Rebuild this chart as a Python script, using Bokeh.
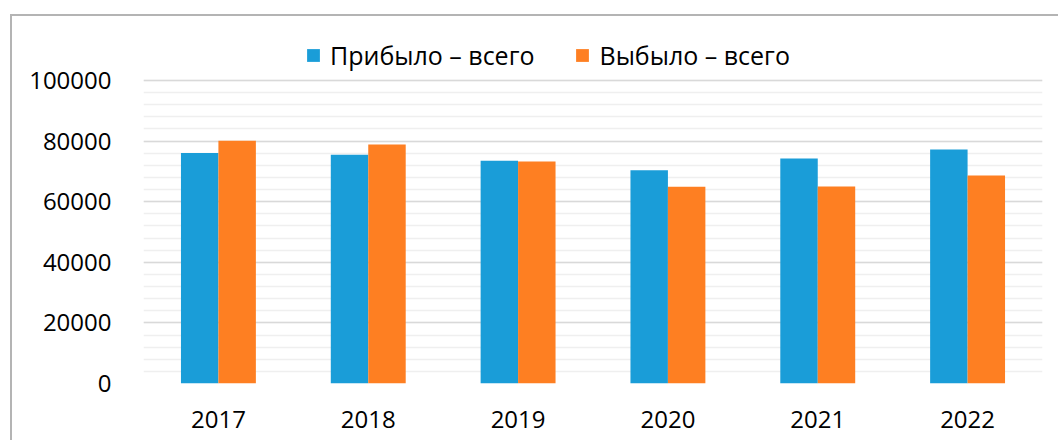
from bokeh.plotting import figure
from bokeh.models import (ColumnDataSource, FactorRange, Range1d, FixedTicker, Legend,
                          LegendItem, BasicTickFormatter)
from bokeh.transform import dodge
from bokeh.embed import file_html
from bokeh.resources import INLINE

years = ["2017", "2018", "2019", "2020", "2021", "2022"]
arrived = [76100, 75500, 73500, 70400, 74250, 77200]
departed = [80100, 78900, 73250, 64900, 65000, 68650]
series_names = ["Прибыло – всего", "Выбыло – всего"]
y_ticks = [0, 20000, 40000, 60000, 80000, 100000]
minor_ticks = list(range(0, 100001, 4000))

BLUE = "#1a9dd8"
ORANGE = "#fe7f22"
FONT = "Open Sans"

src = ColumnDataSource(dict(year=years, arrived=arrived, departed=departed))

p = figure(
    x_range=FactorRange(*years, range_padding=0),
    y_range=Range1d(0, 116500),
    width=1048, height=426,
    output_backend="svg", toolbar_location=None,
    min_border_left=131, min_border_right=18,
    min_border_top=14, min_border_bottom=59,
)
p.styles = {"margin-left": "10px", "margin-top": "14px",
            "border-left": "2px solid #b4b4b4", "border-top": "2px solid #b4b4b4"}

r1 = p.vbar(x=dodge("year", -0.125, range=p.x_range), top="arrived", width=0.25,
            source=src, fill_color=BLUE, line_color=None)
r2 = p.vbar(x=dodge("year", 0.125, range=p.x_range), top="departed", width=0.25,
            source=src, fill_color=ORANGE, line_color=None)

p.outline_line_color = None
p.xgrid.grid_line_color = None
p.yaxis.ticker = FixedTicker(ticks=y_ticks, minor_ticks=minor_ticks)
p.yaxis.formatter = BasicTickFormatter(use_scientific=False)
p.ygrid.grid_line_color = "#d9d9d9"
p.ygrid.grid_line_width = 1.6
p.ygrid.minor_grid_line_color = "#efefef"
p.ygrid.minor_grid_line_width = 1.6

for ax in (p.xaxis, p.yaxis):
    ax.axis_line_color = None
    ax.major_tick_line_color = None
    ax.minor_tick_line_color = None
    ax.major_label_text_font = FONT
    ax.major_label_text_font_size = "24px"
    ax.major_label_text_color = "#000000"
p.yaxis.major_label_standoff = 26
p.xaxis.major_label_standoff = 21

legend = Legend(
    items=[LegendItem(label=series_names[0], renderers=[r1]),
           LegendItem(label=series_names[1], renderers=[r2])],
    orientation="horizontal", location=(162, 311),
    border_line_color=None, background_fill_alpha=0,
    padding=0, margin=0, spacing=40, label_standoff=9,
    glyph_width=16, glyph_height=16,
    label_text_font=FONT, label_text_font_size="25px", label_text_color="#000000",
)
p.add_layout(legend, "center")

open("out.html", "w").write(file_html(p, INLINE))
